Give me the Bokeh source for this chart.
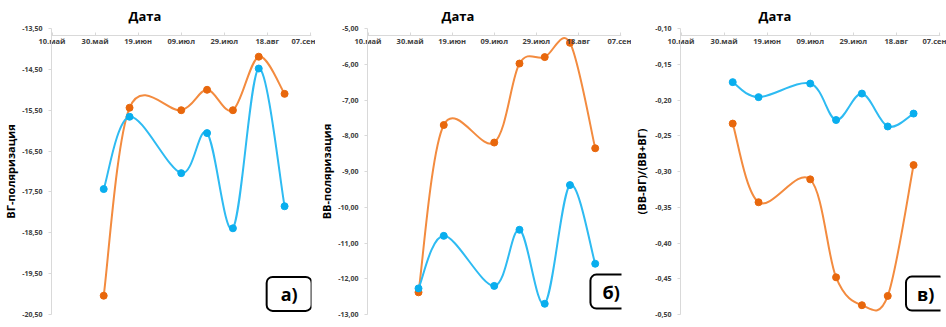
import numpy as np
import pandas as pd
from bokeh.plotting import figure
from bokeh.layouts import row
from bokeh.models import (Range1d, DatetimeAxis, LinearAxis, FixedTicker,
                          CustomJSTickFormatter, Label, ColumnDataSource)
from bokeh.embed import file_html
from bokeh.resources import INLINE

# ---------------- data ----------------
dates = ["2019-06-03", "2019-06-15", "2019-07-09", "2019-07-21",
         "2019-08-02", "2019-08-14", "2019-08-26"]

vg_blue = [-17.43, -15.66, -17.04, -16.06, -18.39, -14.48, -17.85]
vg_orange = [-20.04, -15.44, -15.50, -15.00, -15.50, -14.19, -15.10]

vv_blue = [-12.27, -10.80, -12.20, -10.63, -12.70, -9.38, -11.58]
vv_orange = [-12.38, -7.70, -8.19, -5.98, -5.80, -5.40, -8.35]

ratio_blue = [-0.175, -0.196, -0.177, -0.228, -0.191, -0.237, -0.219]
ratio_orange = [-0.233, -0.343, -0.311, -0.448, -0.487, -0.474, -0.291]

x_tick_dates = ["2019-05-10", "2019-05-30", "2019-06-19", "2019-07-09",
                "2019-07-29", "2019-08-18", "2019-09-07"]

vg_ticks = [-20.5, -19.5, -18.5, -17.5, -16.5, -15.5, -14.5, -13.5]
vv_ticks = [-13.0, -12.0, -11.0, -10.0, -9.0, -8.0, -7.0, -6.0, -5.0]
ratio_ticks = [-0.5, -0.45, -0.4, -0.35, -0.3, -0.25, -0.2, -0.15, -0.1]

titles_y = ["ВГ-поляризация", "ВВ-поляризация", "(ВВ-ВГ)/(ВВ+ВГ)"]
x_title = "Дата"
tags = ["а)", "б)", "в)"]

# ---------------- helpers ----------------
def to_ms(ds):
    return ((pd.to_datetime(ds) - pd.Timestamp("1970-01-01")) // pd.Timedelta("1ms")).to_numpy().astype(float)

x_ms = to_ms(dates)
x_ticks_ms = list(to_ms(x_tick_dates))
x_start = float(to_ms(["2019-05-09 18:00"])[0])
x_end = float(to_ms(["2019-09-07 12:00"])[0])


def smooth_segments(xs, ys):
    X = np.asarray(xs, float)
    Y = np.asarray(ys, float)
    n = len(X)
    Xp = np.concatenate([[X[0]], X, [X[-1]]])
    Yp = np.concatenate([[Y[0]], Y, [Y[-1]]])
    return dict(
        x0=X[:-1], y0=Y[:-1], x1=X[1:], y1=Y[1:],
        cx0=X[:-1] + (Xp[2:n + 1] - Xp[0:n - 1]) / 6.0,
        cy0=Y[:-1] + (Yp[2:n + 1] - Yp[0:n - 1]) / 6.0,
        cx1=X[1:] - (Xp[3:n + 2] - Xp[1:n]) / 6.0,
        cy1=Y[1:] - (Yp[3:n + 2] - Yp[1:n]) / 6.0,
    )


FONT = "Open Sans"
AXIS_GRAY = "#D9D9D9"
LABEL_GRAY = "#404040"
ORANGE_LINE = "#F38B3F"
ORANGE_MARK = "#E8670C"
BLUE_LINE = "#2EBBF2"
BLUE_MARK = "#09AEEE"

MONTHS_JS = "['янв','фев','мар','апр','май','июн','июл','авг','сен','окт','ноя','дек']"
date_fmt = CustomJSTickFormatter(code=f"""
const m = {MONTHS_JS};
const d = new Date(tick);
const dd = String(d.getUTCDate()).padStart(2, '0');
return dd + '.' + m[d.getUTCMonth()];
""")
empty_fmt = CustomJSTickFormatter(code="return '';")
num_fmt = CustomJSTickFormatter(code="return tick.toFixed(2).replace('.', ',');")


def make_panel(ylabel, yo, yb, yticks, width, bl, br, bt, bb, title_off,
               ylab_standoff, tag, tag_fx, tag_fy, tag_pad):
    ylo, yhi = min(yticks), max(yticks)
    frame_h = 327 - bt - bb
    p = figure(width=width, height=327, output_backend="svg", toolbar_location=None,
               x_axis_type=None, y_axis_type=None,
               x_range=Range1d(x_start, x_end), y_range=Range1d(ylo, yhi),
               min_border_left=bl, min_border_right=br,
               min_border_top=bt, min_border_bottom=bb)
    p.outline_line_color = None
    p.background_fill_color = "white"
    p.border_fill_color = "white"

    # "Дата" title
    p.title.text = x_title
    p.title.align = "left"
    p.title.offset = title_off
    p.title.standoff = 7
    p.title.text_font = FONT
    p.title.text_font_size = "13px"
    p.title.text_font_style = "bold"
    p.title.text_color = "#000000"

    # date axis line (slightly below the top of the value range) with tiny ticks
    y_line = yhi - 7.0 / frame_h * (yhi - ylo)
    xline = DatetimeAxis(ticker=FixedTicker(ticks=x_ticks_ms), formatter=empty_fmt,
                         fixed_location=y_line)
    xline.axis_line_color = AXIS_GRAY
    xline.major_tick_line_color = AXIS_GRAY
    xline.major_tick_in = 3
    xline.major_tick_out = 0
    xline.minor_tick_in = 0
    xline.minor_tick_out = 0
    xline.major_label_text_font_size = "1px"
    p.add_layout(xline, "below")

    # date tick labels, drawn under the axis line
    xaxis = DatetimeAxis(ticker=FixedTicker(ticks=x_ticks_ms), formatter=date_fmt)
    xaxis.axis_line_color = None
    xaxis.major_tick_in = 0
    xaxis.major_tick_out = 0
    xaxis.minor_tick_in = 0
    xaxis.minor_tick_out = 0
    xaxis.major_label_standoff = -17
    xaxis.major_label_text_font = FONT
    xaxis.major_label_text_font_size = "7.5px"
    xaxis.major_label_text_font_style = "bold"
    xaxis.major_label_text_color = LABEL_GRAY
    p.add_layout(xaxis, "above")

    yaxis = LinearAxis(ticker=FixedTicker(ticks=yticks), formatter=num_fmt,
                       axis_label=ylabel)
    yaxis.axis_line_color = AXIS_GRAY
    yaxis.major_tick_line_color = AXIS_GRAY
    yaxis.major_tick_out = 3
    yaxis.major_tick_in = 0
    yaxis.minor_tick_out = 0
    yaxis.minor_tick_in = 0
    yaxis.major_label_standoff = 6
    yaxis.major_label_text_font = FONT
    yaxis.major_label_text_font_size = "7px"
    yaxis.major_label_text_font_style = "bold"
    yaxis.major_label_text_color = LABEL_GRAY
    yaxis.axis_label_text_font = FONT
    yaxis.axis_label_text_font_size = "11px"
    yaxis.axis_label_text_font_style = "bold"
    yaxis.axis_label_text_color = "#000000"
    yaxis.axis_label_standoff = ylab_standoff
    p.add_layout(yaxis, "left")

    for ys, lc, mc in ((yo, ORANGE_LINE, ORANGE_MARK), (yb, BLUE_LINE, BLUE_MARK)):
        src = ColumnDataSource(smooth_segments(x_ms, ys))
        p.bezier(x0="x0", y0="y0", x1="x1", y1="y1", cx0="cx0", cy0="cy0",
                 cx1="cx1", cy1="cy1", source=src, line_color=lc, line_width=2)
        p.scatter(x_ms, ys, size=7, fill_color=mc, line_color=mc)

    lab = Label(x=x_start + tag_fx * (x_end - x_start),
                y=yhi - tag_fy * (yhi - ylo),
                text=tag, text_font=FONT, text_font_size="18px", text_font_style="bold",
                text_color="black", text_align="center", text_baseline="middle",
                border_line_color="black", border_line_width=2, border_radius=6,
                background_fill_color="white",
                padding=dict(left=tag_pad, right=tag_pad, top=5, bottom=5))
    p.add_layout(lab)
    return p


pa = make_panel(titles_y[0], vg_orange, vg_blue, vg_ticks, 315, 50, 4, 28, 13, 77, 1,
                tags[0], 0.914, 0.928, 14)
pb = make_panel(titles_y[1], vv_orange, vv_blue, vv_ticks, 316, 52, 10, 27, 8, 74, 1,
                tags[1], 0.959, 0.92, 12)
pc = make_panel(titles_y[2], ratio_orange, ratio_blue, ratio_ticks, 315, 47, 6, 28, 13, 78, 3,
                tags[2], 0.943, 0.927, 11)

layout = row(pa, pb, pc)
open("out.html", "w").write(file_html(layout, INLINE))
